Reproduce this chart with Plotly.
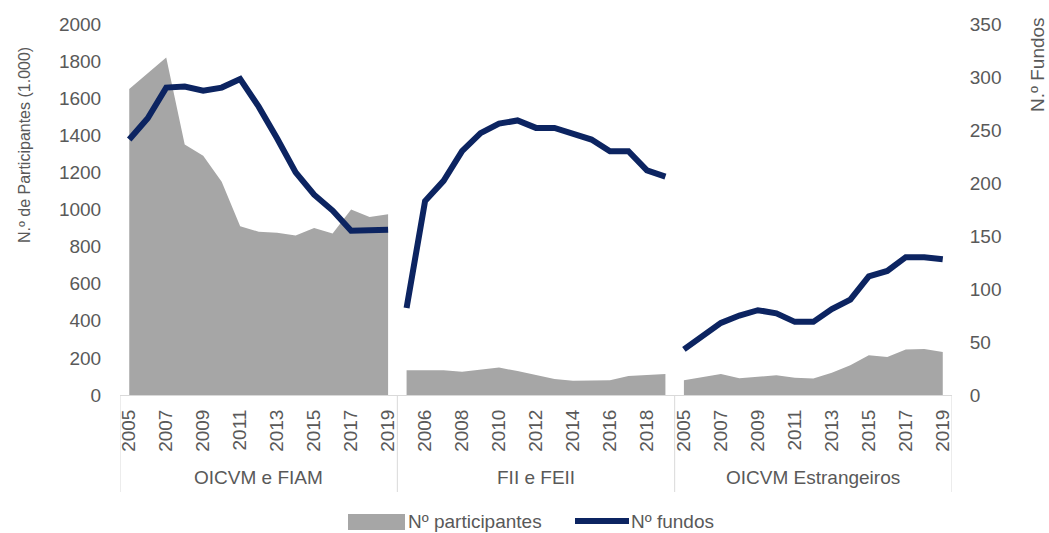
import plotly.graph_objects as go

years = list(range(2005, 2020))
groups = ["OICVM e FIAM", "FII e FEII", "OICVM Estrangeiros"]

participantes_oicvm = [1650, 1735, 1820, 1350, 1290, 1150, 910, 880, 875, 860, 900, 870, 1000, 960, 975]
participantes_fii = [134, 136, 134, 125, 136, 148, 129, 107, 86, 77, 80, 80, 102, 107, 113]
participantes_estr = [80, 98, 113, 90, 98, 107, 93, 89, 120, 161, 214, 205, 245, 248, 232]

fundos_oicvm = [241, 261, 290, 291, 287, 290, 298, 272, 242, 210, 189, 174, 155, 155, 156]
fundos_fii = [82, 183, 202, 230, 247, 256, 259, 252, 252, 246, 241, 230, 230, 212, 206]
fundos_estr = [43, 56, 68, 75, 80, 77, 69, 69, 81, 90, 112, 117, 130, 130, 128]

participantes = [participantes_oicvm, participantes_fii, participantes_estr]
fundos = [fundos_oicvm, fundos_fii, fundos_estr]
legend_names = ["Nº participantes", "Nº fundos"]

AREA = "#a6a6a6"
NAVY = "#0c2461"
TXT = "#595959"
FONT = "Liberation Sans, Arial, sans-serif"

W, H = 1049, 533
ML, MR, MT, MB = 120, 97, 24, 138
PW, PH = W - ML - MR, H - MT - MB


def px(xpix):
    return (xpix - ML) / PW


def py(ypix):
    return (H - MB - ypix) / PH


n = len(years)
fig = go.Figure()

for g in range(len(groups)):
    xs = [g * n + i for i in range(n)]
    fig.add_trace(go.Scatter(
        x=xs, y=participantes[g], mode="lines", fill="tozeroy",
        line=dict(width=0, color=AREA), fillcolor=AREA,
        name=legend_names[0], showlegend=False, yaxis="y"))
for g in range(len(groups)):
    xs = [g * n + i for i in range(n)]
    fig.add_trace(go.Scatter(
        x=xs, y=fundos[g], mode="lines",
        line=dict(width=6, color=NAVY),
        name=legend_names[1], showlegend=False, yaxis="y2"))

tickvals = [k for k in range(len(groups) * n) if k % 2 == 0]
ticktext = [str(years[k % n]) for k in tickvals]

shapes = []
for b in range(len(groups) + 1):
    shapes.append(dict(type="line", xref="x", yref="paper",
                       x0=b * n - 0.5, x1=b * n - 0.5, y0=0, y1=py(492),
                       line=dict(color="#d9d9d9", width=1)))
annotations = []
for g, name in enumerate(groups):
    annotations.append(dict(x=g * n + (n - 1) / 2, y=py(477), xref="x", yref="paper",
                            text=name, showarrow=False,
                            font=dict(size=19, color=TXT, family=FONT),
                            yanchor="middle"))

# axis titles
annotations.append(dict(x=px(24), y=py(145), xref="paper", yref="paper",
                        text="N.º de Participantes (1.000)", textangle=-90,
                        showarrow=False, xanchor="center", yanchor="middle",
                        font=dict(size=16, color=TXT, family=FONT)))
annotations.append(dict(x=px(1037), y=py(65), xref="paper", yref="paper",
                        text="N.º Fundos", textangle=-90,
                        showarrow=False, xanchor="center", yanchor="middle",
                        font=dict(size=19, color=TXT, family=FONT)))

# manual legend
shapes.append(dict(type="rect", xref="paper", yref="paper",
                   x0=px(348), x1=px(405), y0=py(514), y1=py(530),
                   fillcolor=AREA, line=dict(width=0)))
shapes.append(dict(type="line", xref="paper", yref="paper",
                   x0=px(575), x1=px(629), y0=py(521), y1=py(521),
                   line=dict(color=NAVY, width=6)))
annotations.append(dict(x=px(406), y=py(521), xref="paper", yref="paper",
                        text=legend_names[0], showarrow=False,
                        xanchor="left", yanchor="middle",
                        font=dict(size=19, color=TXT, family=FONT)))
annotations.append(dict(x=px(629), y=py(521), xref="paper", yref="paper",
                        text=legend_names[1], showarrow=False,
                        xanchor="left", yanchor="middle",
                        font=dict(size=19, color=TXT, family=FONT)))

fig.update_layout(
    width=W, height=H,
    margin=dict(l=ML, r=MR, t=MT, b=MB, autoexpand=False),
    paper_bgcolor="white", plot_bgcolor="white",
    font=dict(family=FONT, color=TXT, size=19),
    showlegend=False,
    xaxis=dict(range=[-0.5, len(groups) * n - 0.5], tickmode="array",
               tickvals=tickvals, ticktext=ticktext, tickangle=-90,
               showgrid=False, zeroline=False, showline=True,
               linecolor="#d9d9d9", linewidth=1,
               ticks="outside", ticklen=6, tickcolor="rgba(0,0,0,0)",
               automargin=False,
               tickfont=dict(size=19, color=TXT, family=FONT)),
    yaxis=dict(range=[0, 2000], dtick=200, showgrid=False, zeroline=False,
               showline=False, ticks="outside", ticklen=14,
               tickcolor="rgba(0,0,0,0)", automargin=False,
               tickfont=dict(size=19, color=TXT, family=FONT)),
    yaxis2=dict(range=[0, 350], dtick=50, overlaying="y", side="right",
                showgrid=False, zeroline=False, showline=False,
                ticks="outside", ticklen=13, tickcolor="rgba(0,0,0,0)",
                automargin=False,
                tickfont=dict(size=19, color=TXT, family=FONT)),
    shapes=shapes, annotations=annotations,
)

fig.write_html("out.html",
               config={"displayModeBar": False},
               post_script="document.body.style.margin='0';document.body.style.overflow='hidden';")
